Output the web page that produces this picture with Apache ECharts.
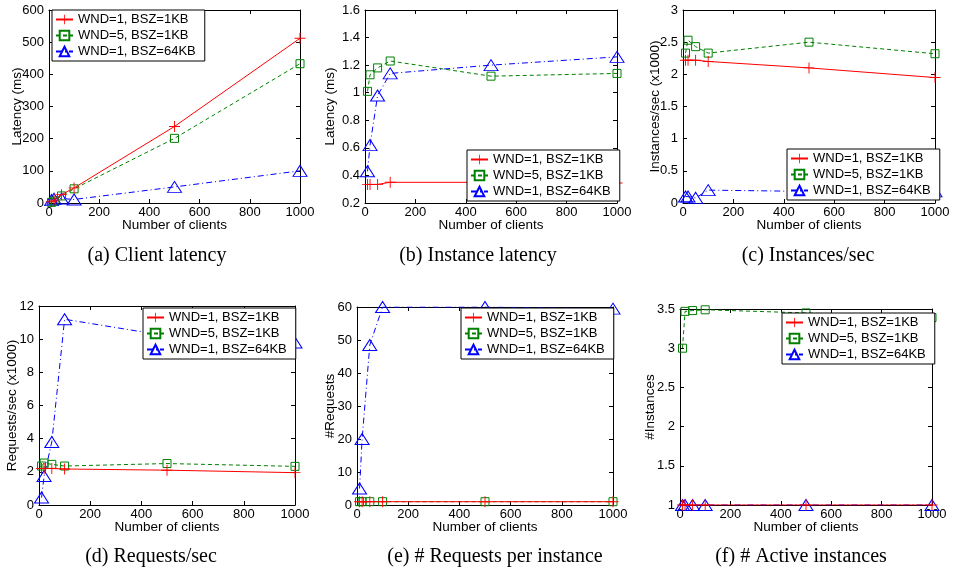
<!DOCTYPE html>
<html>
<head>
<meta charset="utf-8">
<script src="https://cdn.jsdelivr.net/npm/echarts@6/dist/echarts.min.js"></script>
<style>
  html, body { margin: 0; padding: 0; background: #fff; }
  #chart { width: 953px; height: 575px; }
</style>
</head>
<body>
<div id="chart"></div>
<script>
// x: number of clients
const clients = [10, 20, 50, 100, 500, 1000];
const seriesNames = ['WND=1, BSZ=1KB', 'WND=5, BSZ=1KB', 'WND=1, BSZ=64KB'];

// (a) client latency (ms)
const clientLatW1 = [4, 9, 26, 47, 238, 512];
const clientLatW5 = [2, 6, 22, 44, 201, 433];
const clientLatBig = [9, 13, 14, 11, 50, 100];

// (b) instance latency (ms)
const instLatW1 = [0.335, 0.335, 0.335, 0.35, 0.35, 0.345];
const instLatW5 = [1.01, 1.13, 1.18, 1.23, 1.12, 1.14];
const instLatBig = [0.43, 0.62, 0.98, 1.14, 1.2, 1.26];

// (c) instances/sec (x1000)
const instRateW1 = [2.22, 2.22, 2.22, 2.2, 2.1, 1.95];
const instRateW5 = [2.33, 2.53, 2.43, 2.33, 2.5, 2.32];
const instRateBig = [0.1, 0.1, 0.08, 0.2, 0.18, 0.18];

// (d) requests/sec (x1000)
const reqRateW1 = [2.2, 2.2, 2.2, 2.17, 2.1, 1.95];
const reqRateW5 = [2.35, 2.53, 2.45, 2.35, 2.5, 2.33];
const reqRateBig = [0.45, 1.75, 3.8, 11.2, 10.2, 9.8];

// (e) # requests per instance
const reqPerW1 = [1, 1, 1, 1, 1, 1];
const reqPerW5 = [1, 1, 1, 1, 1, 1];
const reqPerBig = [5, 20, 48.5, 60, 60, 59.5];

// (f) # active instances
const activeW1 = [1, 1, 1, 1, 1, 1];
const activeW5 = [3.0, 3.47, 3.48, 3.49, 3.45, 3.39];
const activeBig = [1, 1, 1, 1, 1, 1];

const xTicks = { min: 0, max: 1000, interval: 200 };

const panels = [
  { caption: '(a) Client latency', capX: 157, yName: 'Latency (ms)', min: 0, max: 600, interval: 100,
    data: [clientLatW1, clientLatW5, clientLatBig],
    grid: { left: 49, top: 10, width: 251, height: 193 }, nameGap: 25,
    legend: { left: 52, top: 10 } },
  { caption: '(b) Instance latency', capX: 478, yName: 'Latency (ms)', min: 0.2, max: 1.6, interval: 0.2,
    data: [instLatW1, instLatW5, instLatBig],
    grid: { left: 365, top: 10, width: 252, height: 193 }, nameGap: 28,
    legend: { left: 467, top: 150 } },
  { caption: '(c) Instances/sec', capX: 808, yName: 'Instances/sec (x1000)', min: 0, max: 3, interval: 0.5,
    data: [instRateW1, instRateW5, instRateBig],
    grid: { left: 683, top: 10, width: 252, height: 193 }, nameGap: 21,
    legend: { left: 787, top: 149 } },
  { caption: '(d) Requests/sec', capX: 151, yName: 'Requests/sec (x1000)', min: 0, max: 12, interval: 2,
    data: [reqRateW1, reqRateW5, reqRateBig],
    grid: { left: 39, top: 306, width: 256, height: 199 }, nameGap: 20,
    legend: { left: 143, top: 308 } },
  { caption: '(e) # Requests per instance', capX: 495, yName: '#Requests', min: 0, max: 60, interval: 10,
    data: [reqPerW1, reqPerW5, reqPerBig],
    grid: { left: 357, top: 307, width: 256, height: 198 }, nameGap: 20,
    legend: { left: 461, top: 308 } },
  { caption: '(f) # Active instances', capX: 801, yName: '#Instances', min: 1, max: 3.5, interval: 0.5,
    data: [activeW1, activeW5, activeBig],
    grid: { left: 680, top: 309, width: 252, height: 196 }, nameGap: 23,
    legend: { left: 782, top: 313 } }
];

const FONT = 'Liberation Sans, Arial, sans-serif';
const SERIF = 'Liberation Serif, Times New Roman, serif';

// MATLAB-ish marker/line styles: '+' solid, square dashed, triangle dash-dot
const styles = [
  { color: '#ff0000', symbol: 'path://M5.5,0H6.5V5.5H12V6.5H6.5V12H5.5V6.5H0V5.5H5.5Z', size: 11,
    line: 'solid', fill: '#ff0000' },
  { color: '#008000', symbol: 'rect', size: 8, line: [4, 3], fill: 'rgba(255,255,255,0)' },
  { color: '#0000ff', symbol: 'path://M0,10L7,0L14,10Z', size: [14, 11], line: [6, 3, 1, 3],
    fill: 'rgba(255,255,255,0)' }
];

const grids = [], xAxes = [], yAxes = [], series = [], legends = [], graphics = [];

panels.forEach((p, i) => {
  grids.push(p.grid);

  const tick = { inside: true, length: 4, lineStyle: { color: '#000' } };
  const line = { show: true, onZero: false, lineStyle: { color: '#000', width: 1 } };
  const label = { color: '#000', fontFamily: FONT, fontSize: 13, formatter: v => String(v) };
  const nameStyle = { color: '#000', fontFamily: FONT, fontSize: 13.5 };

  // bottom / top x
  xAxes.push({
    type: 'value', gridIndex: i, position: 'bottom', ...xTicks,
    name: 'Number of clients', nameLocation: 'middle', nameGap: 15, nameMoveOverlap: false,
    nameTextStyle: nameStyle,
    axisLine: line, axisTick: tick, axisLabel: { ...label, margin: 3 },
    splitLine: { show: false }
  });
  xAxes.push({
    type: 'value', gridIndex: i, position: 'top', ...xTicks,
    axisLine: line, axisTick: tick, axisLabel: { show: false }, splitLine: { show: false }
  });
  // left / right y
  yAxes.push({
    type: 'value', gridIndex: i, position: 'left', min: p.min, max: p.max, interval: p.interval,
    name: p.yName, nameLocation: 'middle', nameGap: p.nameGap, nameMoveOverlap: false,
    nameTextStyle: nameStyle,
    axisLine: line, axisTick: tick, axisLabel: { ...label, margin: 5 },
    splitLine: { show: false }
  });
  yAxes.push({
    type: 'value', gridIndex: i, position: 'right', min: p.min, max: p.max, interval: p.interval,
    axisLine: line, axisTick: tick, axisLabel: { show: false }, splitLine: { show: false }
  });

  p.data.forEach((vals, k) => {
    const s = styles[k];
    series.push({
      name: seriesNames[k], type: 'line',
      xAxisIndex: i * 2, yAxisIndex: i * 2,
      data: clients.map((c, j) => [c, vals[j]]),
      symbol: s.symbol, symbolSize: s.size, showSymbol: true,
      lineStyle: { color: s.color, width: 1, type: s.line },
      itemStyle: { color: s.fill, borderColor: s.color, borderWidth: k === 0 ? 0 : 1 },
      z: 3 - k
    });
  });

  legends.push({
    data: seriesNames, orient: 'vertical',
    left: p.legend.left, top: p.legend.top,
    backgroundColor: '#fff', borderColor: '#000', borderWidth: 1,
    padding: [3, 9, 3, 3], itemGap: 3, itemWidth: 17, itemHeight: 12,
    textStyle: { color: '#000', fontFamily: FONT, fontSize: 13 },
    selectedMode: false
  });

  graphics.push({
    type: 'text',
    x: p.capX,
    y: i < 3 ? 256 : 557,
    style: {
      text: p.caption, fill: '#000', font: '20px ' + SERIF,
      textAlign: 'center', textVerticalAlign: 'middle'
    }
  });
});

const chart = echarts.init(document.getElementById('chart'), null, { renderer: 'canvas' });
chart.setOption({
  animation: false,
  backgroundColor: '#fff',
  grid: grids,
  xAxis: xAxes,
  yAxis: yAxes,
  legend: legends,
  series: series,
  graphic: graphics
});
</script>
</body>
</html>
